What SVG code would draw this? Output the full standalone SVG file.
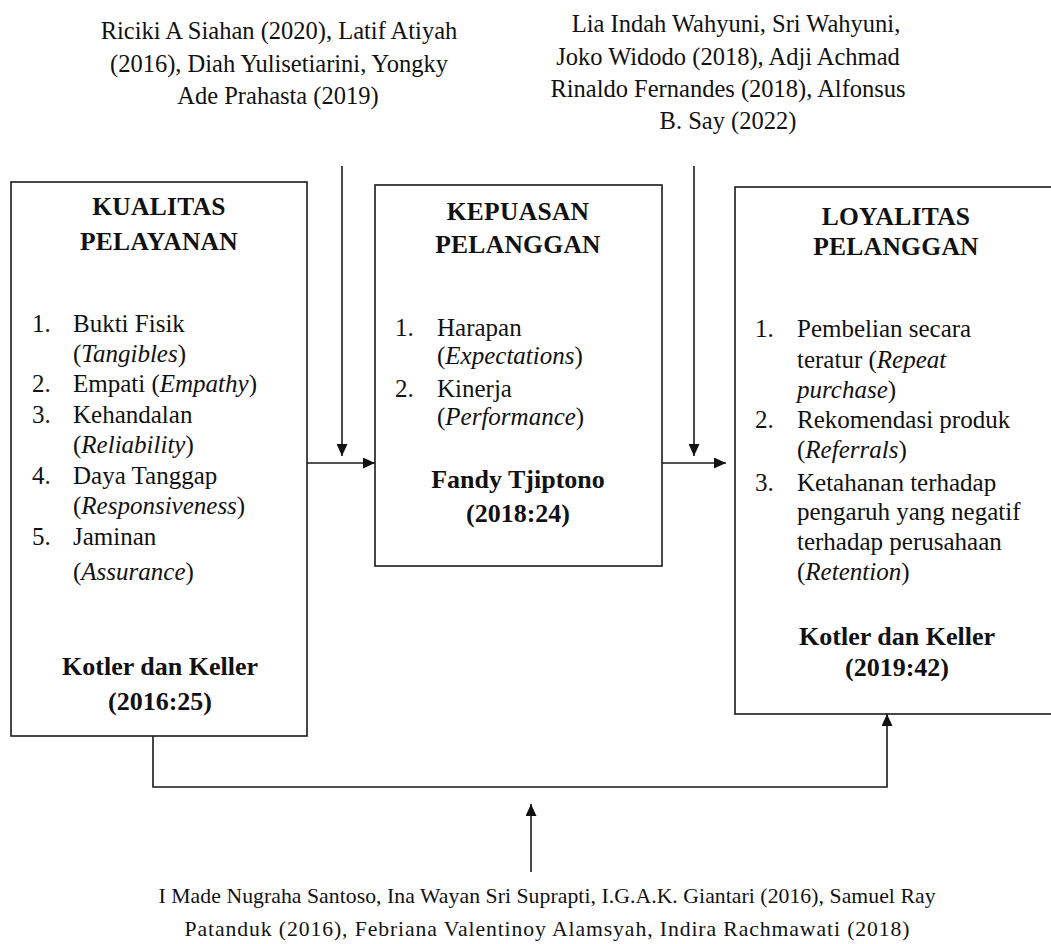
<svg xmlns="http://www.w3.org/2000/svg" width="1051" height="944" viewBox="0 0 1051 944">
<defs>
<style>
.box{fill:#fff;stroke:#1a1a1a;stroke-width:1.6}
.t{font-family:"Liberation Serif","Times New Roman",serif;font-size:25px;fill:#111}
.b{font-weight:bold;font-size:26px}
.h{font-weight:bold;font-size:25.5px;letter-spacing:0.3px}
.c{text-anchor:middle}
.i{font-style:italic}
.ref{font-family:"Liberation Serif","Times New Roman",serif;font-size:24.5px;fill:#111;text-anchor:middle}
.cap{font-family:"Liberation Serif","Times New Roman",serif;font-size:21.7px;fill:#111;text-anchor:middle}
.ln{fill:none;stroke:#1a1a1a;stroke-width:1.6}
</style>
<marker id="ah" markerUnits="userSpaceOnUse" markerWidth="13" markerHeight="11" refX="12" refY="5.5" orient="auto">
<path d="M0,0 L12,5.5 L0,11 Z" fill="#111"/>
</marker>
</defs>
<rect width="1051" height="944" fill="#fff"/>

<g id="ref-top-left">
<text class="ref" x="279" y="39">Riciki  A Siahan (2020),  Latif Atiyah</text>
<text class="ref" x="279" y="72">(2016), Diah Yulisetiarini,  Yongky</text>
<text class="ref" x="278" y="104">Ade Prahasta (2019)</text>
</g>

<g id="ref-top-right">
<text class="ref" x="736" y="32">Lia Indah Wahyuni, Sri Wahyuni,</text>
<text class="ref" x="728" y="65">Joko Widodo  (2018), Adji Achmad</text>
<text class="ref" x="728" y="97">Rinaldo  Fernandes (2018), Alfonsus</text>
<text class="ref" x="728" y="129">B. Say (2022)</text>
</g>

<g id="kualitas-pelayanan">
<rect class="box" x="11" y="182" width="296" height="554"/>
<text class="t h c" x="159" y="215">KUALITAS</text>
<text class="t h c" x="159" y="250">PELAYANAN</text>
<text class="t" x="32" y="332">1.</text><text class="t" x="73" y="332">Bukti Fisik</text>
<text class="t" x="73" y="362">(<tspan class="i">Tangibles</tspan>)</text>
<text class="t" x="32" y="392">2.</text><text class="t" x="73" y="392">Empati (<tspan class="i">Empathy</tspan>)</text>
<text class="t" x="32" y="423">3.</text><text class="t" x="73" y="423">Kehandalan</text>
<text class="t" x="73" y="453">(<tspan class="i">Reliability</tspan>)</text>
<text class="t" x="32" y="484">4.</text><text class="t" x="73" y="484">Daya Tanggap</text>
<text class="t" x="73" y="514">(<tspan class="i">Responsiveness</tspan>)</text>
<text class="t" x="32" y="545">5.</text><text class="t" x="73" y="545">Jaminan</text>
<text class="t" x="73" y="580">(<tspan class="i">Assurance</tspan>)</text>
<text class="t b c" x="160" y="675">Kotler dan Keller</text>
<text class="t b c" x="160" y="710">(2016:25)</text>
</g>

<g id="kepuasan-pelanggan">
<rect class="box" x="375" y="185" width="287" height="381"/>
<text class="t h c" x="518" y="220">KEPUASAN</text>
<text class="t h c" x="518" y="253">PELANGGAN</text>
<text class="t" x="395" y="336">1.</text><text class="t" x="437" y="336">Harapan</text>
<text class="t" x="437" y="364">(<tspan class="i">Expectations</tspan>)</text>
<text class="t" x="395" y="397">2.</text><text class="t" x="437" y="397">Kinerja</text>
<text class="t" x="437" y="425">(<tspan class="i">Performance</tspan>)</text>
<text class="t b c" x="518" y="488">Fandy Tjiptono</text>
<text class="t b c" x="518" y="522">(2018:24)</text>
</g>

<g id="loyalitas-pelanggan">
<rect class="box" x="735" y="187" width="330" height="527"/>
<text class="t h c" x="896" y="225">LOYALITAS</text>
<text class="t h c" x="896" y="255">PELANGGAN</text>
<text class="t" x="755" y="337">1.</text><text class="t" x="797" y="337">Pembelian secara</text>
<text class="t" x="797" y="368">teratur (<tspan class="i">Repeat</tspan></text>
<text class="t" x="797" y="398"><tspan class="i">purchase</tspan>)</text>
<text class="t" x="755" y="428">2.</text><text class="t" x="797" y="428">Rekomendasi produk</text>
<text class="t" x="797" y="458">(<tspan class="i">Referrals</tspan>)</text>
<text class="t" x="755" y="491">3.</text><text class="t" x="797" y="491">Ketahanan terhadap</text>
<text class="t" x="797" y="520">pengaruh yang negatif</text>
<text class="t" x="797" y="550">terhadap perusahaan</text>
<text class="t" x="797" y="580">(<tspan class="i">Retention</tspan>)</text>
<text class="t b c" x="897" y="645">Kotler dan Keller</text>
<text class="t b c" x="897" y="676">(2019:42)</text>
</g>

<g id="ref-bottom">
<text class="cap" x="547" y="903" textLength="777" lengthAdjust="spacing">I Made Nugraha Santoso, Ina Wayan Sri Suprapti, I.G.A.K. Giantari (2016), Samuel Ray</text>
<text class="cap" x="547" y="936" textLength="725" lengthAdjust="spacing">Patanduk (2016), Febriana Valentinoy Alamsyah, Indira Rachmawati (2018)</text>
</g>

<g id="connectors">
<line class="ln" x1="342" y1="166" x2="342" y2="456" marker-end="url(#ah)"/>
<line class="ln" x1="307" y1="463" x2="375" y2="463" marker-end="url(#ah)"/>
<line class="ln" x1="694" y1="166" x2="694" y2="456" marker-end="url(#ah)"/>
<line class="ln" x1="662" y1="463" x2="726" y2="463" marker-end="url(#ah)"/>
<polyline class="ln" points="153,736 153,787 887,787 887,714" marker-end="url(#ah)"/>
<line class="ln" x1="531" y1="872" x2="531" y2="804" marker-end="url(#ah)"/>
</g>
</svg>
